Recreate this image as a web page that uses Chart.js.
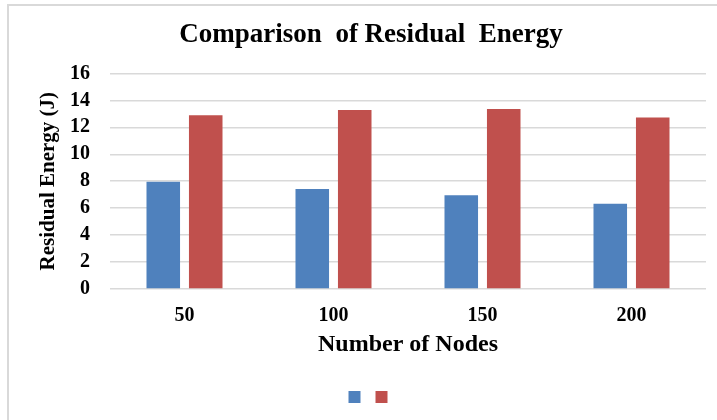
<!DOCTYPE html>
<html lang="en">
<head>
    <meta charset="UTF-8">
    <title>Comparison of Residual Energy</title>
    <script src="https://cdn.jsdelivr.net/npm/chart.js"></script>
    <style>
        body { margin: 0; background: #fff; overflow: hidden; }
        #box {
            position: absolute; left: 7px; top: 4px;
            width: 726px; height: 424px;
            border: 2px solid #d9d9d9;
        }
    </style>
</head>
<body>
    <div id="box">
        <canvas id="energyChart"></canvas>
    </div>

    <script>
        // values
        const nodeCounts = ['50', '100', '150', '200'];
        const seriesA = [7.95, 7.42, 6.95, 6.32];
        const seriesB = [12.9, 13.28, 13.36, 12.73];
        const yTicks = [0, 2, 4, 6, 8, 10, 12, 14, 16];

        const serif = 'Liberation Serif, Times New Roman, serif';

        new Chart(document.getElementById('energyChart'), {
            type: 'bar',
            data: {
                labels: nodeCounts,
                datasets: [{
                    label: '',
                    data: seriesA,
                    backgroundColor: '#4f81bd',
                    categoryPercentage: 0.57,
                    barPercentage: 0.79
                }, {
                    label: '',
                    data: seriesB,
                    backgroundColor: '#c0504d',
                    categoryPercentage: 0.57,
                    barPercentage: 0.79
                }]
            },
            options: {
                responsive: true,
                maintainAspectRatio: false,
                animation: false,
                layout: {
                    padding: { left: 27, right: 29, top: 0, bottom: 17 }
                },
                plugins: {
                    title: {
                        display: true,
                        text: 'Comparison  of Residual  Energy',
                        color: '#000',
                        font: { family: serif, size: 27, weight: 'bold' },
                        padding: { top: 13, bottom: 22 }
                    },
                    legend: {
                        position: 'bottom',
                        labels: {
                            boxWidth: 12,
                            boxHeight: 12,
                            padding: 9,
                            font: { size: 12 }
                        }
                    },
                    tooltip: { enabled: false }
                },
                scales: {
                    x: {
                        grid: { display: false, drawTicks: false },
                        border: { display: false },
                        // fixed height so the axis title sits close to the labels
                        afterFit: axis => { axis.height = 93; },
                        ticks: {
                            color: '#000',
                            padding: 15,
                            font: { family: serif, size: 20, weight: 'bold' }
                        },
                        title: {
                            display: true,
                            text: 'Number of Nodes',
                            color: '#000',
                            font: { family: serif, size: 24, weight: 'bold' },
                            padding: { top: 2, bottom: 23 }
                        }
                    },
                    y: {
                        min: 0,
                        max: 16,
                        afterBuildTicks: axis => {
                            axis.ticks = yTicks.map(v => ({ value: v }));
                        },
                        afterFit: axis => { axis.width = 74; },
                        grid: { color: '#d9d9d9', lineWidth: 1.5, drawTicks: false },
                        border: { display: false },
                        ticks: {
                            autoSkip: false,
                            color: '#000',
                            padding: 20,
                            font: { family: serif, size: 20, weight: 'bold' }
                        },
                        title: {
                            display: true,
                            text: 'Residual Energy (J)',
                            color: '#000',
                            font: { family: serif, size: 21, weight: 'bold' },
                            padding: { top: 0, bottom: 9 }
                        }
                    }
                }
            }
        });
    </script>
</body>
</html>
